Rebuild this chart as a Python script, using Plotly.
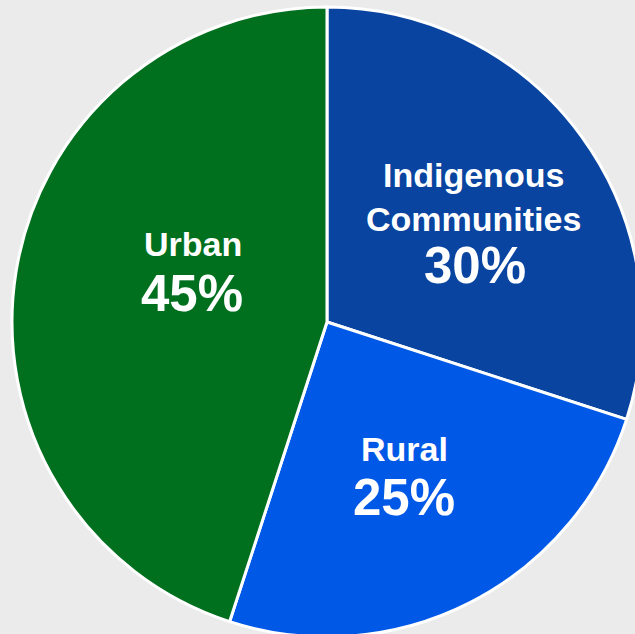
import plotly.graph_objects as go

labels = ["Indigenous<br>Communities", "Rural", "Urban"]
values = [30, 25, 45]
colors = ["#0844a0", "#0059e6", "#00701f"]

# label block placement (paper coordinates of the name text and percent text)
name_pos = [(0.7333, 0.6992), (0.6238, 0.2984), (0.2873, 0.6246)]
pct_pos = [(0.7349, 0.5889), (0.6222, 0.2214), (0.2857, 0.5452)]

W, H = 654, 644
M = dict(l=12, r=12, t=7, b=7)

fig = go.Figure(go.Pie(
    labels=labels,
    values=values,
    sort=False,
    direction="clockwise",
    rotation=0,
    marker=dict(colors=colors, line=dict(color="white", width=3)),
    textinfo="none",
    hoverinfo="skip",
    showlegend=False,
))

font_family = "Liberation Sans, Arial, sans-serif"
total = sum(values)
annotations = []
for lab, val, (nx, ny), (px, py) in zip(labels, values, name_pos, pct_pos):
    annotations.append(dict(
        x=nx, y=ny, xref="paper", yref="paper", xanchor="center", yanchor="middle",
        text=f"<b>{lab}</b>", showarrow=False,
        font=dict(family=font_family, size=34, color="white"),
    ))
    annotations.append(dict(
        x=px, y=py, xref="paper", yref="paper", xanchor="center", yanchor="middle",
        text=f"<b>{round(100 * val / total)}%</b>", showarrow=False,
        font=dict(family=font_family, size=51, color="white"),
    ))

fig.update_layout(
    width=W,
    height=H,
    margin=M,
    paper_bgcolor="#ebebeb",
    plot_bgcolor="#ebebeb",
    showlegend=False,
    annotations=annotations,
)

fig.write_html(
    "out.html",
    config={"displayModeBar": False},
    post_script="document.body.style.margin='0';document.body.style.overflow='hidden';",
)
